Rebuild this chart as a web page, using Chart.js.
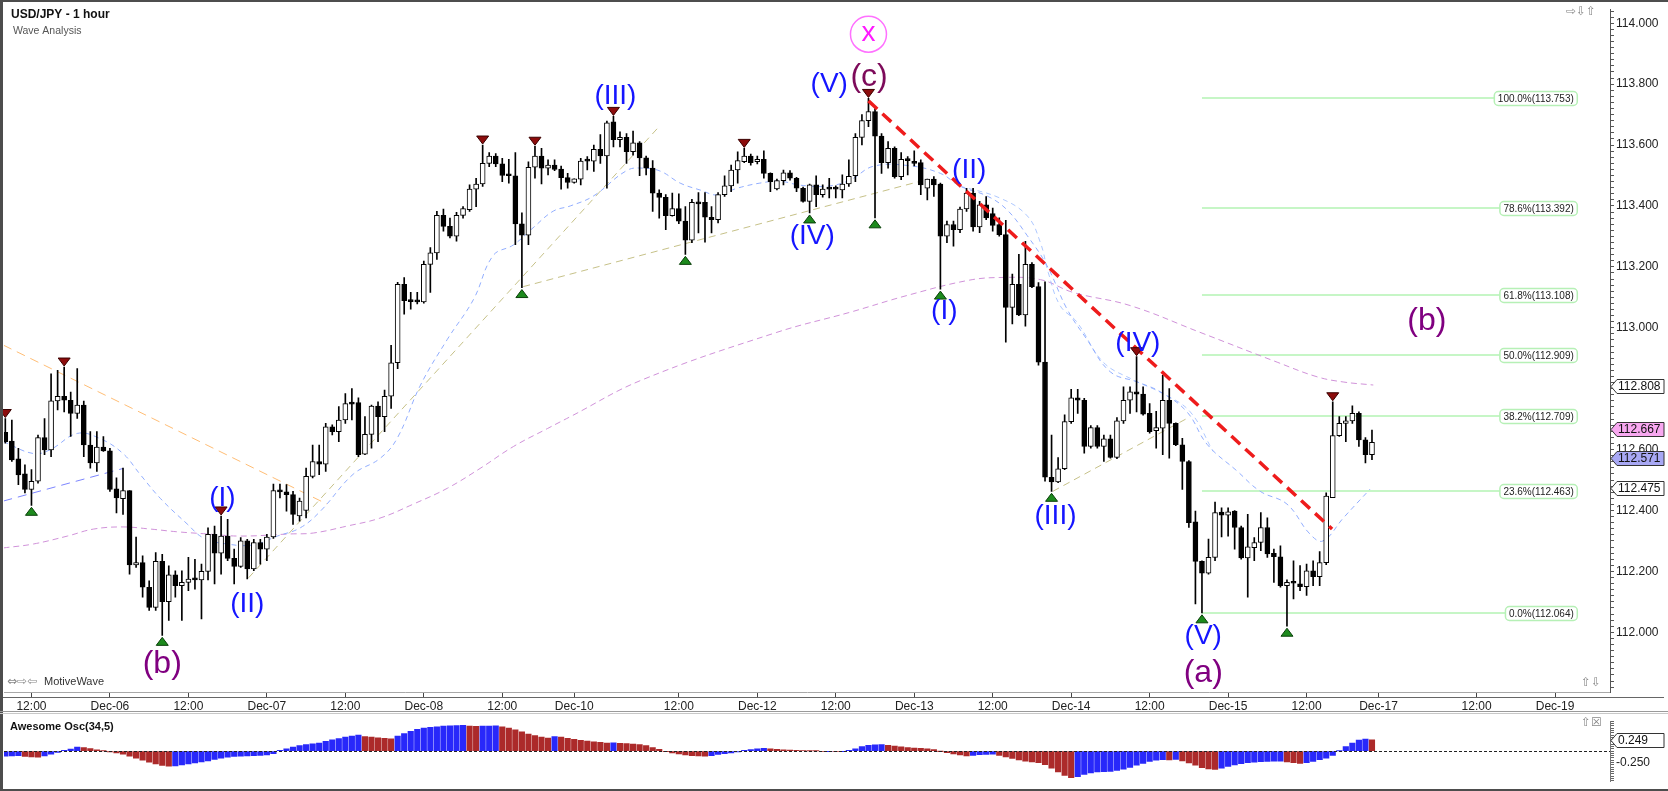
<!DOCTYPE html>
<html>
<head>
<meta charset="utf-8">
<script src="https://cdn.jsdelivr.net/npm/chart.js@4.4.0/dist/chart.umd.min.js"></script>
<style>
html, body { margin: 0; padding: 0; background: #fff; }
#wrap { position: relative; width: 1668px; height: 791px; overflow: hidden; background: #fff; }
#mainBox { position: absolute; left: 0; top: 0; width: 1668px; height: 712px; }
#oscBox { position: absolute; left: 0; top: 712px; width: 1668px; height: 79px; }
.edge { position: absolute; background: #4d4d4d; }
</style>
</head>
<body>
<div id="wrap">
  <div id="mainBox"><canvas id="main"></canvas></div>
  <div id="oscBox"><canvas id="osc"></canvas></div>
  <div class="edge" style="left:0;top:0;width:1668px;height:2px"></div>
  <div class="edge" style="left:0;top:0;width:3px;height:791px"></div>
  <div class="edge" style="left:0;top:789px;width:1668px;height:2px"></div>
  <div class="edge" style="left:0;top:711px;width:1668px;height:1px;background:#9a9a9a"></div>
  <div class="edge" style="left:0;top:713px;width:1668px;height:1px;background:#c8c8c8"></div>
</div>
<script>
// ---- hourly candles, USD/JPY ----
const opens = [112.657,112.628,112.570,112.520,112.469,112.496,112.639,112.599,112.760,112.775,112.762,112.719,112.746,112.615,112.556,112.608,112.596,112.471,112.439,112.465,
112.221,112.229,112.148,112.082,112.233,112.101,112.189,112.153,112.164,112.175,112.172,112.200,112.322,112.260,112.316,112.243,112.216,112.300,112.208,112.295,
112.273,112.313,112.465,112.461,112.452,112.382,112.400,112.512,112.561,112.552,112.675,112.659,112.697,112.751,112.754,112.585,112.650,112.743,112.708,112.775,
112.885,113.143,113.089,113.087,113.085,113.208,113.246,113.369,113.333,113.301,113.369,113.388,113.455,113.472,113.540,113.564,113.538,113.502,113.499,113.341,
113.304,113.527,113.564,113.524,113.534,113.521,113.493,113.477,113.488,113.551,113.547,113.586,113.564,113.676,113.618,113.625,113.578,113.607,113.558,113.524,
113.442,113.428,113.368,113.391,113.350,113.288,113.412,113.412,113.363,113.355,113.437,113.466,113.518,113.545,113.564,113.545,113.553,113.507,113.456,113.483,
113.509,113.491,113.458,113.415,113.469,113.437,113.458,113.458,113.453,113.472,113.499,113.625,113.680,113.710,113.629,113.542,113.589,113.496,113.553,113.545,
113.542,113.458,113.488,113.472,113.301,113.339,113.322,113.390,113.442,113.331,113.404,113.375,113.339,113.306,113.067,113.143,113.042,113.208,113.135,112.887,
112.509,112.494,112.537,112.692,112.770,112.762,112.610,112.672,112.610,112.635,112.574,112.694,112.762,112.790,112.782,112.719,112.662,112.670,112.762,112.686,
112.616,112.561,112.363,112.233,112.194,112.246,112.395,112.385,112.398,112.344,112.244,112.278,112.295,112.344,112.259,112.248,112.153,112.164,112.159,112.150,
112.202,112.183,112.229,112.442,112.646,112.686,112.694,112.719,112.632,112.583];
const highs = [112.702,112.697,112.604,112.550,112.534,112.648,112.702,112.849,112.860,112.871,112.789,112.866,112.759,112.659,112.659,112.643,112.604,112.507,112.539,112.465,
112.313,112.251,112.169,112.262,112.256,112.218,112.202,112.202,112.246,112.240,112.224,112.343,112.349,112.382,112.371,112.273,112.311,112.305,112.305,112.305,
112.322,112.487,112.487,112.485,112.463,112.441,112.539,112.615,112.615,112.686,112.681,112.741,112.784,112.800,112.770,112.708,112.746,112.757,112.795,112.942,
113.149,113.165,113.116,113.116,113.219,113.263,113.382,113.390,113.360,113.379,113.398,113.469,113.491,113.600,113.575,113.572,113.556,113.553,113.575,113.377,
113.545,113.596,113.589,113.551,113.551,113.531,113.507,113.489,113.556,113.562,113.600,113.634,113.679,113.694,113.643,113.638,113.646,113.611,113.564,113.549,
113.453,113.437,113.442,113.440,113.398,113.422,113.444,113.444,113.398,113.444,113.499,113.534,113.578,113.589,113.570,113.564,113.581,113.509,113.488,113.518,
113.516,113.494,113.462,113.472,113.499,113.469,113.491,113.466,113.502,113.551,113.638,113.700,113.753,113.720,113.638,113.611,113.594,113.575,113.562,113.581,
113.551,113.488,113.496,113.475,113.350,113.350,113.396,113.458,113.458,113.415,113.431,113.393,113.361,113.353,113.176,113.241,113.284,113.214,113.148,113.151,
112.648,112.574,112.714,112.798,112.798,112.768,112.679,112.679,112.648,112.648,112.705,112.806,112.806,112.905,112.806,112.751,112.726,112.844,112.800,112.688,
112.637,112.564,112.398,112.235,112.306,112.428,112.409,112.409,112.400,112.349,112.387,112.311,112.393,112.376,112.273,112.284,112.172,112.235,112.219,112.224,
112.235,112.265,112.458,112.757,112.708,112.708,112.744,112.724,112.639,112.664];
const lows = [112.621,112.561,112.485,112.458,112.417,112.490,112.583,112.577,112.730,112.724,112.643,112.702,112.577,112.539,112.528,112.594,112.463,112.392,112.387,112.191,
112.213,112.115,112.072,112.072,111.990,112.039,112.115,112.039,112.137,112.142,112.044,112.172,112.159,112.191,112.235,112.159,112.213,112.175,112.202,112.224,
112.235,112.308,112.441,112.398,112.354,112.365,112.376,112.507,112.518,112.528,112.648,112.626,112.686,112.697,112.577,112.583,112.605,112.626,112.659,112.735,
112.866,113.045,113.061,113.078,113.081,113.116,113.224,113.317,113.295,113.284,113.360,113.382,113.398,113.464,113.529,113.529,113.480,113.475,113.273,113.132,
113.273,113.491,113.472,113.502,113.516,113.455,113.458,113.475,113.469,113.518,113.513,113.540,113.458,113.594,113.594,113.540,113.567,113.499,113.502,113.382,
113.360,113.322,113.366,113.342,113.241,113.279,113.311,113.281,113.311,113.344,113.431,113.447,113.475,113.542,113.534,113.538,113.491,113.447,113.453,113.469,
113.485,113.447,113.412,113.377,113.398,113.429,113.426,113.426,113.426,113.464,113.480,113.600,113.660,113.361,113.507,113.524,113.491,113.486,113.502,113.531,
113.437,113.420,113.431,113.127,113.279,113.268,113.312,113.382,113.317,113.312,113.355,113.317,113.301,112.953,113.013,113.040,113.005,113.132,112.877,112.496,
112.463,112.491,112.534,112.686,112.719,112.588,112.605,112.605,112.561,112.572,112.570,112.686,112.719,112.724,112.713,112.654,112.605,112.583,112.572,112.613,
112.469,112.344,112.093,112.064,112.191,112.235,112.313,112.316,112.273,112.240,112.115,112.235,112.268,112.246,112.164,112.148,112.020,112.110,112.137,112.121,
112.153,112.153,112.222,112.442,112.643,112.626,112.686,112.610,112.556,112.567];
const closes = [112.626,112.566,112.517,112.469,112.496,112.639,112.599,112.760,112.775,112.762,112.719,112.746,112.615,112.556,112.608,112.596,112.469,112.441,112.465,112.221,
112.229,112.148,112.082,112.233,112.101,112.189,112.153,112.164,112.175,112.172,112.200,112.322,112.260,112.316,112.243,112.216,112.300,112.208,112.295,112.273,
112.313,112.465,112.461,112.452,112.387,112.431,112.512,112.561,112.552,112.675,112.659,112.697,112.751,112.749,112.583,112.650,112.743,112.708,112.775,112.885,
113.143,113.089,113.086,113.085,113.208,113.246,113.369,113.333,113.301,113.369,113.391,113.455,113.472,113.540,113.564,113.538,113.500,113.499,113.341,113.304,
113.527,113.564,113.524,113.534,113.520,113.493,113.477,113.489,113.547,113.547,113.586,113.564,113.673,113.618,113.625,113.578,113.607,113.558,113.524,113.442,
113.428,113.368,113.391,113.350,113.288,113.412,113.407,113.363,113.355,113.437,113.466,113.518,113.549,113.564,113.542,113.553,113.507,113.480,113.483,113.509,
113.491,113.458,113.415,113.469,113.437,113.455,113.455,113.455,113.472,113.497,113.625,113.680,113.710,113.629,113.542,113.589,113.496,113.553,113.549,113.540,
113.469,113.488,113.469,113.301,113.339,113.322,113.390,113.442,113.331,113.404,113.361,113.336,113.306,113.067,113.143,113.042,113.208,113.135,112.887,112.509,
112.494,112.537,112.692,112.770,112.762,112.610,112.672,112.610,112.635,112.574,112.694,112.762,112.790,112.782,112.716,112.659,112.672,112.762,112.686,112.616,
112.561,112.360,112.233,112.194,112.246,112.393,112.385,112.396,112.344,112.244,112.281,112.295,112.344,112.257,112.248,112.153,112.164,112.161,112.150,112.202,
112.183,112.229,112.447,112.646,112.686,112.694,112.719,112.632,112.583,112.624];

// Awesome Oscillator (34,5)
const aoValues = [-0.109,-0.103,-0.098,-0.115,-0.126,-0.132,-0.103,-0.069,-0.029,0.017,0.046,0.086,0.075,0.057,0.029,0.006,-0.017,-0.040,-0.069,-0.109,
-0.155,-0.201,-0.241,-0.282,-0.316,-0.328,-0.322,-0.305,-0.282,-0.259,-0.236,-0.213,-0.184,-0.155,-0.132,-0.115,-0.109,-0.103,-0.098,-0.092,
-0.086,-0.057,0.017,0.052,0.086,0.121,0.144,0.161,0.178,0.213,0.247,0.276,0.305,0.328,0.351,0.316,0.305,0.293,0.282,0.270,
0.328,0.385,0.431,0.477,0.506,0.523,0.534,0.546,0.552,0.557,0.563,0.546,0.540,0.546,0.549,0.552,0.534,0.506,0.466,0.420,
0.374,0.339,0.305,0.287,0.316,0.305,0.282,0.259,0.236,0.218,0.201,0.190,0.178,0.184,0.172,0.167,0.155,0.144,0.121,0.075,
0.040,-0.003,-0.040,-0.063,-0.086,-0.098,-0.103,-0.109,-0.098,-0.075,-0.057,-0.040,-0.017,0.017,0.034,0.052,0.063,0.052,0.040,0.029,
0.023,0.017,0.011,0.006,0.002,-0.011,-0.006,-0.011,-0.006,0.017,0.052,0.098,0.126,0.138,0.144,0.126,0.109,0.092,0.080,0.069,
0.063,0.052,0.034,-0.001,-0.034,-0.063,-0.086,-0.103,-0.092,-0.080,-0.075,-0.069,-0.092,-0.126,-0.161,-0.195,-0.218,-0.236,-0.253,-0.299,
-0.374,-0.454,-0.534,-0.580,-0.557,-0.511,-0.477,-0.454,-0.448,-0.443,-0.425,-0.397,-0.356,-0.310,-0.270,-0.224,-0.201,-0.190,-0.195,-0.184,
-0.213,-0.259,-0.310,-0.362,-0.391,-0.402,-0.374,-0.333,-0.305,-0.276,-0.253,-0.241,-0.230,-0.224,-0.221,-0.218,-0.236,-0.253,-0.270,-0.253,
-0.224,-0.190,-0.155,-0.092,0.006,0.098,0.178,0.240,0.262,0.249];

// moving averages, sampled along the curves (bar index, price)
const maFastIdx = [-0.3,4.3,6.9,11.0,14.5,18.0,20.6,23.7,27.8,30.3,33.9,37.9,41.6,45.1,48.2,53.2,57.3,59.9,63.5,67.6,71.6,74.6,77.7,80.7,83.8,86.4,89.9,95.1,97.6,100.2,103.2,106.3,108.9,111.9,115.4,118.5,121.6,125.7,129.2,132.7,137.9,143.0,146.0,150.2,153.2,156.3,159.3,162.4,165.4,169.0,173.1,176.6,180.7,183.8,188.4,191.9,196.0,199.5,201.5,204.6,208.7];
const maFast = [112.626,112.587,112.600,112.653,112.636,112.587,112.519,112.440,112.356,112.310,112.290,112.287,112.316,112.343,112.398,112.519,112.571,112.636,112.812,112.962,113.093,113.237,113.272,113.328,113.383,113.400,113.432,113.517,113.524,113.514,113.475,113.452,113.436,113.458,113.475,113.481,113.468,113.465,113.485,113.530,113.533,113.507,113.465,113.432,113.387,113.302,113.204,113.060,112.962,112.855,112.822,112.790,112.724,112.617,112.529,112.463,112.421,112.323,112.300,112.375,112.470];
const maMidIdx = [146.0,152.1,156.3,158.3,159.5,161.3,163.9,167.9,172.5,177.1,181.2,184.7];
const maMid = [113.465,113.426,113.367,113.279,113.181,113.073,113.018,112.887,112.829,112.783,112.724,112.594];
const maSlowIdx = [-0.3,4.3,9.5,13.5,18.0,22.2,26.3,30.9,35.9,43.6,47.1,52.3,57.3,62.4,67.6,72.6,77.7,82.9,86.4,97.4,118.0,129.2,137.9,147.1,152.1,158.3,163.3,172.0,182.7,194.5,200.6,204.6,209.2];
const maSlow = [112.277,112.290,112.316,112.339,112.346,112.339,112.330,112.323,112.316,112.323,112.326,112.349,112.375,112.421,112.473,112.538,112.610,112.669,112.708,112.829,112.985,113.051,113.106,113.155,113.165,113.158,113.116,113.073,112.985,112.887,112.839,112.822,112.812];

// drawn trend lines: [startIdx, startPrice, endIdx, endPrice]
const orangeTrend = [-0.3, 112.943, 49.2, 112.421];
const blueTrend = [-0.3, 112.431, 18.0, 112.538];
const khakiTrends = [[37.2, 112.179, 99.7, 113.654], [79.2, 113.135, 139.9, 113.481], [160.2, 112.463, 181.2, 112.708]];
const redTrend = [132.0, 113.745, 202.9, 112.339];

// fibonacci retracement of the (c) high to the (a) low
const fibLevels = [100.0, 78.6, 61.8, 50.0, 38.2, 23.6, 0.0];
const fibPrices = [113.753, 113.392, 113.108, 112.909, 112.709, 112.463, 112.064];
const fibFromIdx = 183, fibToIdx = 240.4;

// wave counts
const minorWaves = ['(I)','(II)','(III)','(IV)','(V)','(I)','(II)','(III)','(IV)','(V)'];
const minorIdx = [33.2, 37.0, 93.3, 123.4, 126.0, 143.6, 147.4, 160.6, 173.2, 183.2];
const minorPrice = [112.440, 112.091, 113.759, 113.302, 113.798, 113.054, 113.517, 112.382, 112.950, 111.987];
const majorWaves = ['(b)','(c)','(a)','(b)'];
const majorIdx = [24.0, 132.1, 183.2, 217.4];
const majorPrice = [111.896, 113.824, 111.866, 113.021];
const circleWave = ['x', 132.0, 113.964];

// swing markers
const swingHighs = [0, 9, 33, 73, 81, 93, 113, 132, 173, 203];
const swingLows = [4, 24, 79, 104, 123, 133, 143, 160, 183, 196];

// axes
const timeTickIdx = [4, 16, 28, 40, 52, 64, 76, 87, 103, 115, 127, 139, 151, 163, 175, 187, 199, 210, 225, 237];
const timeTickLabels = ['12:00','Dec-06','12:00','Dec-07','12:00','Dec-08','12:00','Dec-10','12:00','Dec-12','12:00','Dec-13','12:00','Dec-14','12:00','Dec-15','12:00','Dec-17','12:00','Dec-19'];
const priceTicks = [112.0, 112.2, 112.4, 112.6, 112.8, 113.0, 113.2, 113.4, 113.6, 113.8, 114.0];
const priceTickLabels = ['112.000','112.200','112.400','112.600','112.800','113.000','113.200','113.400','113.600','113.800','114.000'];
const priceTags = [112.808, 112.667, 112.571, 112.475];
const oscTicks = [-0.25, 0.25];
const oscTickLabels = ['-0.250', '0.250'];
const oscTag = 0.249;

const xMin = -0.2, xMax = 245.4;
const yMin = 111.804, yMax = 114.046;
const FONT = 'Arial, "Liberation Sans", sans-serif';

const idx = opens.map((_, i) => i);
const pts = (xs, ys) => xs.map((x, k) => ({ x: x, y: ys[k] }));
const seg = s => [{ x: s[0], y: s[1] }, { x: s[2], y: s[3] }];

function tagShape(ctx, x0, py, text, fill) {
  const h = 14, x1 = x0 + 6, x2 = 1664;
  ctx.beginPath();
  ctx.moveTo(x0, py);
  ctx.lineTo(x1, py - h / 2);
  ctx.lineTo(x2, py - h / 2);
  ctx.lineTo(x2, py + h / 2);
  ctx.lineTo(x1, py + h / 2);
  ctx.closePath();
  ctx.fillStyle = fill;
  ctx.fill();
  ctx.strokeStyle = '#333';
  ctx.lineWidth = 1;
  ctx.stroke();
  ctx.fillStyle = '#111';
  ctx.font = '12px ' + FONT;
  ctx.textAlign = 'left';
  ctx.textBaseline = 'middle';
  ctx.fillText(text, x1 + 1, py + 0.5);
}

const mainOverlay = {
  id: 'mainOverlay',
  beforeDatasetsDraw(chart) {
    const { ctx, scales: { x, y } } = chart;
    ctx.save();
    ctx.strokeStyle = '#c6f6c6';
    ctx.lineWidth = 2;
    fibPrices.forEach(p => {
      const py = Math.round(y.getPixelForValue(p));
      ctx.beginPath();
      ctx.moveTo(x.getPixelForValue(fibFromIdx), py);
      ctx.lineTo(x.getPixelForValue(fibToIdx), py);
      ctx.stroke();
    });
    ctx.restore();
  },
  afterDatasetsDraw(chart) {
    const { ctx, scales: { x, y } } = chart;
    ctx.save();

    // fib labels
    ctx.font = '10px ' + FONT;
    ctx.textBaseline = 'middle';
    fibPrices.forEach((p, k) => {
      const py = Math.round(y.getPixelForValue(p)) + 0.5;
      const txt = fibLevels[k].toFixed(1) + '%(' + p.toFixed(3) + ')';
      const w = ctx.measureText(txt).width + 7;
      const xr = x.getPixelForValue(fibToIdx);
      ctx.beginPath();
      ctx.roundRect(xr - w, py - 7, w, 14, 4);
      ctx.fillStyle = '#fff';
      ctx.fill();
      ctx.strokeStyle = '#b6f0b6';
      ctx.lineWidth = 1.5;
      ctx.stroke();
      ctx.fillStyle = '#222';
      ctx.textAlign = 'left';
      ctx.fillText(txt, xr - w + 3.5, py + 0.5);
    });

    // swing markers
    ctx.lineWidth = 1;
    swingHighs.forEach(i => {
      const cx = x.getPixelForValue(i), tip = y.getPixelForValue(highs[i]) - 1;
      ctx.beginPath();
      ctx.moveTo(cx, tip);
      ctx.lineTo(cx - 6, tip - 8);
      ctx.lineTo(cx + 6, tip - 8);
      ctx.closePath();
      ctx.fillStyle = '#8c0c0c';
      ctx.fill();
      ctx.strokeStyle = '#3a0000';
      ctx.stroke();
    });
    swingLows.forEach(i => {
      const cx = x.getPixelForValue(i), tip = y.getPixelForValue(lows[i]) + 2;
      ctx.beginPath();
      ctx.moveTo(cx, tip);
      ctx.lineTo(cx - 6, tip + 8);
      ctx.lineTo(cx + 6, tip + 8);
      ctx.closePath();
      ctx.fillStyle = '#1d8a1d';
      ctx.fill();
      ctx.strokeStyle = '#0a400a';
      ctx.stroke();
    });

    // wave labels
    ctx.textAlign = 'center';
    ctx.textBaseline = 'middle';
    ctx.font = '28px ' + FONT;
    ctx.fillStyle = '#1515ff';
    minorWaves.forEach((t, k) => ctx.fillText(t, x.getPixelForValue(minorIdx[k]), y.getPixelForValue(minorPrice[k])));
    ctx.font = '32px ' + FONT;
    majorWaves.forEach((t, k) => {
      ctx.fillStyle = t === '(c)' ? '#7d0a5a' : '#800080';
      ctx.fillText(t, x.getPixelForValue(majorIdx[k]), y.getPixelForValue(majorPrice[k]));
    });
    const cx = x.getPixelForValue(circleWave[1]), cy = y.getPixelForValue(circleWave[2]);
    ctx.beginPath();
    ctx.arc(cx, cy, 18, 0, Math.PI * 2);
    ctx.strokeStyle = '#ff70ff';
    ctx.lineWidth = 1.5;
    ctx.stroke();
    ctx.fillStyle = '#ff1aff';
    ctx.font = '28px ' + FONT;
    ctx.fillText(circleWave[0], cx, cy - 1);
    ctx.restore();
  },
  afterDraw(chart) {
    const { ctx, chartArea: a, scales: { y } } = chart;
    ctx.save();
    // second rule of the time axis band
    ctx.strokeStyle = '#666';
    ctx.lineWidth = 1;
    ctx.beginPath();
    ctx.moveTo(0, a.bottom + 5.5);
    ctx.lineTo(1664, a.bottom + 5.5);
    ctx.stroke();

    ctx.fillStyle = '#111';
    ctx.textAlign = 'left';
    ctx.textBaseline = 'middle';
    ctx.font = 'bold 12px ' + FONT;
    ctx.fillText('USD/JPY - 1 hour', 11, 15);
    ctx.fillStyle = '#555';
    ctx.font = '10.5px ' + FONT;
    ctx.fillText('Wave Analysis', 13, 31);
    ctx.fillStyle = '#333';
    ctx.font = '11px ' + FONT;
    ctx.fillText('MotiveWave', 44, 682);
    ctx.fillStyle = '#888';
    ctx.font = '12px "DejaVu Sans", sans-serif';
    ctx.fillText('\u21D4\u21E8\u21E6', 7, 682);
    ctx.fillText('\u21E8\u21E9\u21E7', 1566, 12);
    ctx.fillText('\u21E7\u21E9', 1581, 683);

    const tagFills = ['#ffffff', '#f8a8f0', '#a8a8f4', '#ffffff'];
    priceTags.forEach((v, k) => tagShape(ctx, a.right + 1, Math.round(y.getPixelForValue(v)) + 0.5, v.toFixed(3), tagFills[k]));
    ctx.restore();
  }
};

new Chart(document.getElementById('main'), {
  type: 'bar',
  data: {
    datasets: [
      {
        label: 'body',
        data: idx.map(i => ({ x: i, y: [opens[i], closes[i]] })),
        backgroundColor: c => (closes[c.dataIndex] >= opens[c.dataIndex] ? '#ffffff' : '#000000'),
        borderColor: '#000',
        borderWidth: 1,
        borderSkipped: false,
        barThickness: 5,
        minBarLength: 2,
        grouped: false,
        order: 0
      },
      {
        label: 'wick',
        data: idx.map(i => ({ x: i, y: [lows[i], highs[i]] })),
        backgroundColor: '#000',
        borderWidth: 0,
        barThickness: 1,
        grouped: false,
        order: 1
      },
      {
        type: 'line', label: 'MA fast', data: pts(maFastIdx, maFast),
        borderColor: 'rgba(140,170,255,0.95)', borderWidth: 1, borderDash: [5, 4],
        pointRadius: 0, tension: 0.4, order: 3
      },
      {
        type: 'line', label: 'MA mid', data: pts(maMidIdx, maMid),
        borderColor: 'rgba(160,190,255,0.85)', borderWidth: 1, borderDash: [5, 4],
        pointRadius: 0, tension: 0.4, order: 3
      },
      {
        type: 'line', label: 'MA slow', data: pts(maSlowIdx, maSlow),
        borderColor: 'rgba(205,140,215,0.95)', borderWidth: 1, borderDash: [6, 4],
        pointRadius: 0, tension: 0.4, order: 3
      },
      {
        type: 'line', label: 'orange', data: seg(orangeTrend),
        borderColor: 'rgba(255,185,110,0.95)', borderWidth: 1, borderDash: [9, 6], pointRadius: 0, order: 4
      },
      {
        type: 'line', label: 'blue', data: seg(blueTrend),
        borderColor: 'rgba(110,120,255,0.9)', borderWidth: 1, borderDash: [9, 6], pointRadius: 0, order: 4
      },
      ...khakiTrends.map(t => ({
        type: 'line', label: 'khaki', data: seg(t),
        borderColor: 'rgba(195,190,130,0.95)', borderWidth: 1, borderDash: [7, 5], pointRadius: 0, order: 4
      })),
      {
        type: 'line', label: 'red', data: seg(redTrend),
        borderColor: '#ee1c1c', borderWidth: 3.5, borderDash: [12, 7], pointRadius: 0, order: -1
      }
    ]
  },
  options: {
    animation: false,
    responsive: true,
    maintainAspectRatio: false,
    layout: { padding: { left: 4, top: 5, right: 0, bottom: 0 } },
    plugins: { legend: { display: false }, tooltip: { enabled: false } },
    scales: {
      x: {
        type: 'linear', min: xMin, max: xMax, offset: false,
        afterBuildTicks: s => { s.ticks = timeTickIdx.map(v => ({ value: v })); },
        afterFit: s => { s.height = 20; },
        ticks: {
          autoSkip: false, maxRotation: 0, padding: 2,
          callback: (v, i) => timeTickLabels[i],
          font: { family: FONT, size: 12 }, color: '#222'
        },
        grid: { drawOnChartArea: false, offset: false, tickLength: 5, color: '#444' },
        border: { display: true, color: '#a8a8a8' }
      },
      y: {
        position: 'right', min: yMin, max: yMax, beginAtZero: false,
        afterBuildTicks: s => {
          const t = [];
          for (let k = Math.ceil(yMin * 50); k <= Math.floor(yMax * 50); k++) t.push({ value: k / 50 });
          s.ticks = t;
        },
        afterFit: s => { s.width = 58; },
        ticks: {
          autoSkip: false, padding: 2,
          callback: v => {
            const k = priceTicks.findIndex(p => Math.abs(p - v) < 1e-6);
            return k >= 0 ? priceTickLabels[k] : '';
          },
          font: { family: FONT, size: 12 }, color: '#222'
        },
        grid: { drawOnChartArea: false, tickLength: 4, color: '#555' },
        border: { display: true, color: '#555' }
      }
    }
  },
  plugins: [mainOverlay]
});

const oscOverlay = {
  id: 'oscOverlay',
  afterDatasetsDraw(chart) {
    const { ctx, chartArea: a, scales: { y } } = chart;
    ctx.save();
    const zy = Math.round(y.getPixelForValue(0)) + 0.5;
    ctx.strokeStyle = '#222';
    ctx.lineWidth = 1;
    ctx.setLineDash([3, 2]);
    ctx.beginPath();
    ctx.moveTo(a.left, zy);
    ctx.lineTo(a.right, zy);
    ctx.stroke();
    ctx.setLineDash([]);
    ctx.fillStyle = '#111';
    ctx.font = 'bold 11px ' + FONT;
    ctx.textAlign = 'left';
    ctx.textBaseline = 'middle';
    ctx.fillText('Awesome Osc(34,5)', 10, 15);
    ctx.fillStyle = '#888';
    ctx.font = '12px "DejaVu Sans", sans-serif';
    ctx.fillText('\u21E7\u2612', 1581, 11);
    ctx.restore();
  },
  afterDraw(chart) {
    const { ctx, chartArea: a, scales: { y } } = chart;
    ctx.save();
    tagShape(ctx, a.right + 1, Math.round(y.getPixelForValue(oscTag)) + 0.5, oscTag.toFixed(3), '#ffffff');
    ctx.restore();
  }
};

new Chart(document.getElementById('osc'), {
  type: 'bar',
  data: {
    datasets: [{
      label: 'AO',
      data: aoValues.map((v, i) => ({ x: i, y: v })),
      backgroundColor: c => {
        const i = c.dataIndex;
        return i === 0 || aoValues[i] >= aoValues[i - 1] ? 'rgb(40,40,250)' : 'rgb(172,42,42)';
      },
      borderWidth: 0,
      barThickness: 5.5
    }]
  },
  options: {
    animation: false,
    responsive: true,
    maintainAspectRatio: false,
    layout: { padding: { left: 4, top: 1, right: 0, bottom: 1 } },
    plugins: { legend: { display: false }, tooltip: { enabled: false } },
    scales: {
      x: { type: 'linear', display: false, min: xMin, max: xMax, offset: false },
      y: {
        position: 'right', min: -0.672, max: 0.655, beginAtZero: false,
        afterBuildTicks: s => {
          const t = [];
          for (let k = -13; k <= 13; k++) t.push({ value: k / 20 });
          s.ticks = t;
        },
        afterFit: s => { s.width = 58; },
        ticks: {
          autoSkip: false, padding: 2,
          callback: v => {
            const k = oscTicks.findIndex(p => Math.abs(p - v) < 1e-6);
            return k >= 0 ? oscTickLabels[k] : '';
          },
          font: { family: FONT, size: 12 }, color: '#222'
        },
        grid: { drawOnChartArea: false, tickLength: 4, color: '#666' },
        border: { display: true, color: '#777' }
      }
    }
  },
  plugins: [oscOverlay]
});
</script>
</body>
</html>
